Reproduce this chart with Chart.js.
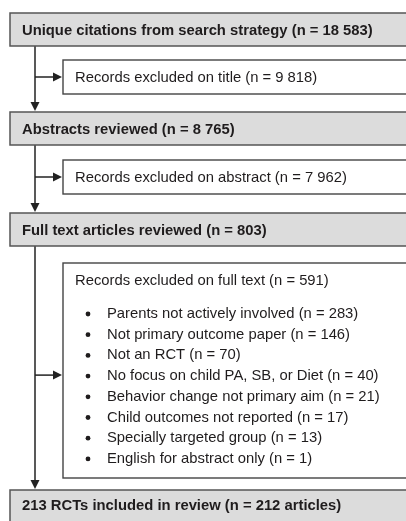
<!DOCTYPE html>
<html>
<head>
<meta charset="utf-8">
<script src="https://cdn.jsdelivr.net/npm/chart.js@4/dist/chart.umd.min.js"></script>
<style>
html,body{margin:0;padding:0;background:#fff;}
canvas{display:block;}
</style>
</head>
<body>
<canvas id="c" width="406" height="521"></canvas>
<script>
// ---- data ----
const stageLabels = ["Unique citations from search strategy", "Abstracts reviewed", "Full text articles reviewed"];
const stageCounts = [18583, 8765, 803];
const excludedLabels = ["Records excluded on title", "Records excluded on abstract", "Records excluded on full text"];
const excludedCounts = [9818, 7962, 591];
const reasonLabels = [
  "Parents not actively involved",
  "Not primary outcome paper",
  "Not an RCT",
  "No focus on child PA, SB, or Diet",
  "Behavior change not primary aim",
  "Child outcomes not reported",
  "Specially targeted group",
  "English for abstract only"
];
const reasonCounts = [283, 146, 70, 40, 21, 17, 13, 1];
const finalRCTs = 213;
const finalArticles = 212;

function fmt(n){
  const s = String(n);
  return s.length >= 4 ? s.replace(/\B(?=(\d{3})+(?!\d))/g, " ") : s;
}

// layout (in scale units, y axis is top-down)
const L = {
  grayX: 10, whiteX: 63, lineX: 35, right: 420,
  grayTop: [13, 112, 213], grayH: 33,
  whiteTop: [60, 160, 263], whiteH: [34, 34, 215],
  finalTop: 490, finalH: 40, finalTextOffset: 15,
  titleOffset: 17, bulletStart: 313, bulletStep: 20.7, bulletX: 88, bulletTextX: 107,
  arrowRow: 3
};

const flowPlugin = {
  id: 'flow',
  afterDraw(chart){
    const ctx = chart.ctx;
    const xs = chart.scales.x, ys = chart.scales.y;
    const X = v => xs.getPixelForValue(v);
    const Y = v => ys.getPixelForValue(v);
    const txt = '#1f1c1d';
    const ink = '#222222';
    const boldFont = 'bold 14.8px "Liberation Sans", Arial, sans-serif';
    const regFont = '14.8px "Liberation Sans", Arial, sans-serif';
    ctx.save();

    function grayBox(top, h, label, textOff){
      const x0 = X(L.grayX), y0 = Y(top), x1 = X(L.right), y1 = Y(top + h);
      ctx.fillStyle = '#dcdcdc';
      ctx.fillRect(x0, y0, x1 - x0, y1 - y0);
      ctx.strokeStyle = '#555555';
      ctx.lineWidth = 1.5;
      ctx.strokeRect(x0, y0, x1 - x0, y1 - y0);
      ctx.fillStyle = txt;
      ctx.font = boldFont;
      ctx.textBaseline = 'middle';
      ctx.textAlign = 'left';
      ctx.fillText(label, X(L.grayX + 12), Y(top + (textOff || h / 2)) + 1);
    }
    function whiteBox(top, h){
      const x0 = X(L.whiteX), y0 = Y(top), x1 = X(L.right), y1 = Y(top + h);
      ctx.fillStyle = '#ffffff';
      ctx.fillRect(x0, y0, x1 - x0, y1 - y0);
      ctx.strokeStyle = '#444444';
      ctx.lineWidth = 1.4;
      ctx.strokeRect(x0, y0, x1 - x0, y1 - y0);
    }
    function vArrow(yFrom, yTo){
      ctx.strokeStyle = ink;
      ctx.lineWidth = 1.5;
      ctx.beginPath();
      ctx.moveTo(X(L.lineX), Y(yFrom));
      ctx.lineTo(X(L.lineX), Y(yTo) - 6);
      ctx.stroke();
      ctx.fillStyle = ink;
      ctx.beginPath();
      ctx.moveTo(X(L.lineX) - 4.5, Y(yTo) - 10);
      ctx.lineTo(X(L.lineX) + 4.5, Y(yTo) - 10);
      ctx.lineTo(X(L.lineX), Y(yTo) - 1);
      ctx.closePath();
      ctx.fill();
    }
    function hArrow(yv){
      ctx.strokeStyle = ink;
      ctx.lineWidth = 1.5;
      ctx.beginPath();
      ctx.moveTo(X(L.lineX), Y(yv));
      ctx.lineTo(X(L.whiteX) - 6, Y(yv));
      ctx.stroke();
      ctx.fillStyle = ink;
      ctx.beginPath();
      ctx.moveTo(X(L.whiteX) - 10, Y(yv) - 4.5);
      ctx.lineTo(X(L.whiteX) - 10, Y(yv) + 4.5);
      ctx.lineTo(X(L.whiteX) - 1, Y(yv));
      ctx.closePath();
      ctx.fill();
    }

    // connectors
    const nextTops = [L.grayTop[1], L.grayTop[2], L.finalTop];
    for (let i = 0; i < 3; i++){
      vArrow(L.grayTop[i] + L.grayH, nextTops[i]);
    }
    // stage boxes
    for (let i = 0; i < stageLabels.length; i++){
      grayBox(L.grayTop[i], L.grayH, stageLabels[i] + " (n = " + fmt(stageCounts[i]) + ")");
    }
    grayBox(L.finalTop, L.finalH, finalRCTs + " RCTs included in review (n = " + finalArticles + " articles)", L.finalTextOffset);

    // exclusion boxes
    for (let i = 0; i < excludedLabels.length; i++){
      whiteBox(L.whiteTop[i], L.whiteH[i]);
      const label = excludedLabels[i] + " (n = " + fmt(excludedCounts[i]) + ")";
      ctx.fillStyle = txt;
      ctx.font = regFont;
      ctx.textBaseline = 'middle';
      ctx.textAlign = 'left';
      const ty = i < 2 ? L.whiteTop[i] + L.whiteH[i] / 2 : L.whiteTop[i] + L.titleOffset;
      ctx.fillText(label, X(L.whiteX + 12), Y(ty) + 1);
      if (i < 2) hArrow(L.whiteTop[i] + L.whiteH[i] / 2);
    }
    // reasons
    for (let j = 0; j < reasonLabels.length; j++){
      const yv = L.bulletStart + j * L.bulletStep;
      ctx.fillStyle = txt;
      ctx.beginPath();
      ctx.arc(X(L.bulletX), Y(yv) + 1, 2.4, 0, Math.PI * 2);
      ctx.fill();
      ctx.font = regFont;
      ctx.textBaseline = 'middle';
      ctx.fillText(reasonLabels[j] + " (n = " + fmt(reasonCounts[j]) + ")", X(L.bulletTextX), Y(yv) + 1);
    }
    hArrow(L.bulletStart + L.arrowRow * L.bulletStep);
    ctx.restore();
  }
};

new Chart(document.getElementById('c'), {
  type: 'scatter',
  data: { datasets: [] },
  options: {
    responsive: false,
    animation: false,
    devicePixelRatio: 1,
    layout: { padding: 0 },
    plugins: { legend: { display: false }, tooltip: { enabled: false } },
    scales: {
      x: { type: 'linear', min: 0, max: 406, display: false },
      y: { type: 'linear', min: 0, max: 521, reverse: true, display: false }
    }
  },
  plugins: [flowPlugin]
});
</script>
</body>
</html>
